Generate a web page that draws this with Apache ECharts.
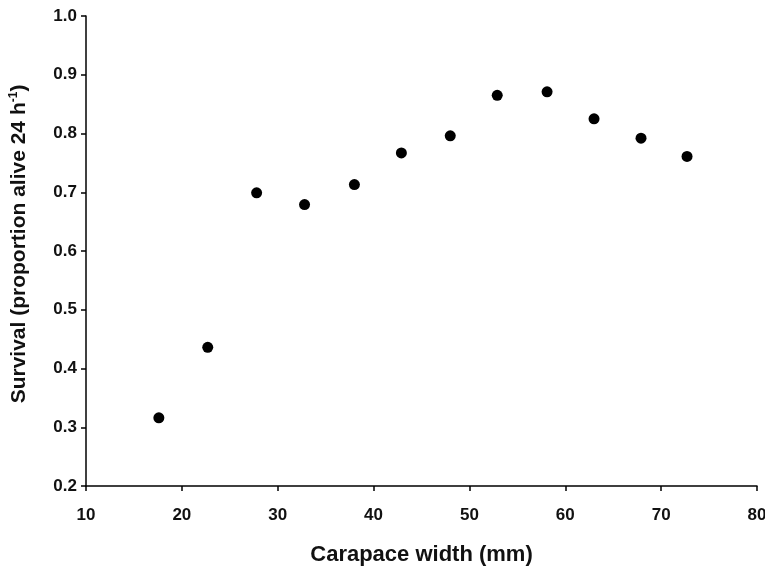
<!DOCTYPE html>
<html>
<head>
<meta charset="utf-8">
<script src="https://cdn.jsdelivr.net/npm/echarts@6/dist/echarts.min.js"></script>
<style>html,body{margin:0;padding:0;background:#fff;}#c{width:765px;height:571px;}</style>
</head>
<body>
<div id="c"></div>
<script>
var carapaceWidth = [17.6, 22.7, 27.8, 32.8, 38.0, 42.9, 48.0, 52.9, 58.1, 63.0, 67.9, 72.7];
var survival = [0.316, 0.436, 0.699, 0.679, 0.713, 0.767, 0.796, 0.865, 0.871, 0.825, 0.792, 0.761];
var xTicks = [10, 20, 30, 40, 50, 60, 70, 80];
var yTicks = [0.2, 0.3, 0.4, 0.5, 0.6, 0.7, 0.8, 0.9, 1.0];

var points = carapaceWidth.map(function (x, i) { return [x, survival[i]]; });
var font = 'Liberation Sans, Arial, sans-serif';
var chart = echarts.init(document.getElementById('c'), null, {renderer: 'canvas'});
chart.setOption({
  animation: false,
  backgroundColor: '#fff',
  grid: {left: 86, right: 8, top: 16, bottom: 85, containLabel: false, outerBoundsMode: 'none'},
  xAxis: {
    type: 'value', min: xTicks[0], max: xTicks[xTicks.length - 1], interval: 10,
    name: 'Carapace width (mm)', nameLocation: 'middle', nameGap: 58,
    nameTextStyle: {fontFamily: font, fontSize: 22, fontWeight: 'bold', color: '#111'},
    axisLine: {lineStyle: {color: '#000', width: 1.5}},
    axisTick: {show: true, inside: false, length: 5, lineStyle: {color: '#000', width: 1.5}},
    axisLabel: {fontFamily: font, fontSize: 17, fontWeight: 'bold', color: '#111', margin: 21},
    splitLine: {show: false}
  },
  yAxis: {
    type: 'value', min: yTicks[0], max: yTicks[yTicks.length - 1], interval: 0.1,
    name: 'Survival (proportion alive 24 h{sup|-1})', nameLocation: 'middle', nameGap: 56,
    nameTextStyle: {fontFamily: font, fontSize: 21, fontWeight: 'bold', color: '#111', padding: [0, 0, 0, 14],
      rich: {sup: {fontFamily: font, fontSize: 12, fontWeight: 'bold', color: '#111', verticalAlign: 'top', lineHeight: 22}}},
    axisLine: {show: true, lineStyle: {color: '#000', width: 1.5}},
    axisTick: {show: true, inside: false, length: 5, lineStyle: {color: '#000', width: 1.5}},
    axisLabel: {fontFamily: font, fontSize: 17, fontWeight: 'bold', color: '#111', margin: 9,
      formatter: function (v) { return v.toFixed(1); }},
    splitLine: {show: false}
  },
  series: [{
    type: 'scatter', data: points, symbol: 'circle', symbolSize: 11,
    itemStyle: {color: '#000', opacity: 1}
  }]
});
</script>
</body>
</html>
